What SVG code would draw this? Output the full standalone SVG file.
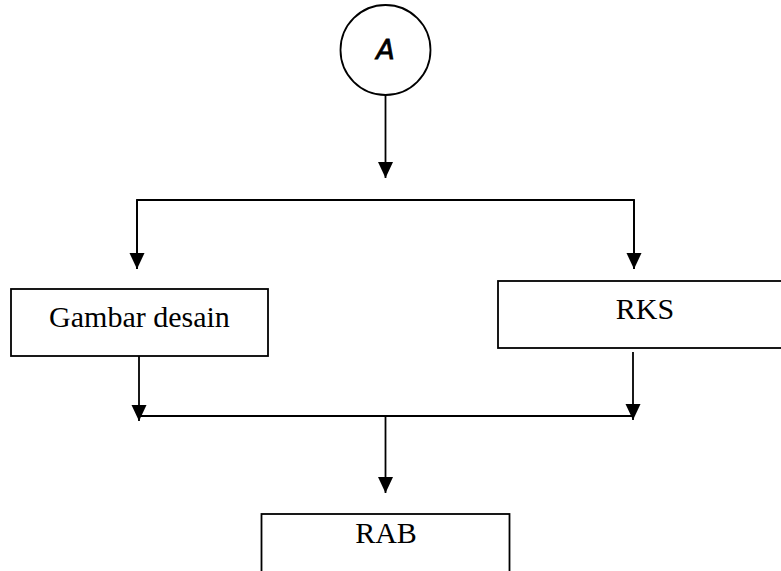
<svg xmlns="http://www.w3.org/2000/svg" width="781" height="571" viewBox="0 0 781 571">
<defs>
<style>
.box{fill:#fff;stroke:#000;stroke-width:1.8}
.ln{fill:none;stroke:#000;stroke-width:1.8}
.lbl{font-family:"Liberation Serif","Times New Roman",serif;font-size:30px;fill:#000;text-anchor:middle}
</style>
<marker id="ah" markerUnits="userSpaceOnUse" markerWidth="17" markerHeight="17" viewBox="0 0 17 17" refX="16" refY="8.5" orient="auto">
<path d="M0,1 L16,8.5 L0,16 Z" fill="#000"/>
</marker>
</defs>
<rect width="781" height="571" fill="#fff"/>
<g id="connectors">
<line class="ln" x1="385.5" y1="95" x2="385.5" y2="178" marker-end="url(#ah)"/>
<polyline class="ln" points="137,269 137,200 634,200 634,269"/>
<line class="ln" x1="137" y1="200" x2="137" y2="269" marker-end="url(#ah)"/>
<line class="ln" x1="634" y1="200" x2="634" y2="269" marker-end="url(#ah)"/>
<line class="ln" x1="139" y1="355" x2="139" y2="421" marker-end="url(#ah)"/>
<line class="ln" x1="633" y1="352" x2="633" y2="420" marker-end="url(#ah)"/>
<line class="ln" x1="139" y1="416" x2="633" y2="416"/>
<line class="ln" x1="385.5" y1="416" x2="385.5" y2="493" marker-end="url(#ah)"/>
</g>
<g id="nodeA">
<circle cx="385.5" cy="50" r="45" fill="#fff" stroke="#000" stroke-width="1.8"/>
<text x="385.5" y="59" font-family="DejaVu Sans, sans-serif" font-style="italic" font-size="27" stroke="#000" stroke-width="0.8" text-anchor="middle">A</text>
</g>
<g id="gambar">
<rect class="box" x="11" y="289" width="257" height="67"/>
<text class="lbl" x="139.5" y="327">Gambar desain</text>
</g>
<g id="rks">
<rect class="box" x="498" y="281" width="300" height="67"/>
<text class="lbl" x="645" y="319">RKS</text>
</g>
<g id="rab">
<rect class="box" x="261.5" y="514" width="248" height="80"/>
<text class="lbl" x="386" y="543">RAB</text>
</g>
</svg>
